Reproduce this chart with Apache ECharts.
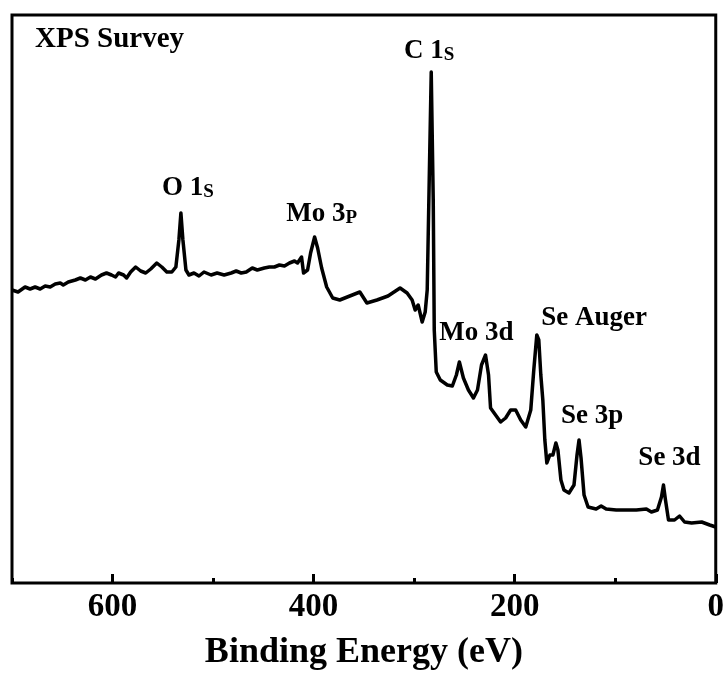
<!DOCTYPE html>
<html>
<head>
<meta charset="utf-8">
<script src="https://cdn.jsdelivr.net/npm/echarts@6/dist/echarts.min.js"></script>
<style>
html,body{margin:0;padding:0;background:#fff;}
#chart{width:727px;height:677px;}
</style>
</head>
<body>
<div id="chart"></div>
<script>
// Binding energy (eV)
const energy = [700,694,687,682,677,672,667,662,657,652,649,644,637,632,627,622,617,611,606,601,597,594,589,586,582,577,572,567,562,556,551,546,541,537,
  534,532,530,527,
  524,519,514,509,502,496,489,482,477,472,467,461,456,449,444,439,434,429,424,419,416,412,410,406,
  403,399,396,392,387,381,374,364,354,347,337,326,314,307,302,299,296,292,289,287,285,283,281,280,278,274,267,262,258,255,251,246,241,237,233,229,226,224,219,214,209,204,199,194,189,184,181,178,176,174,172,170,168,165,162,159,157,154,151,146,141,138,136,134,131,127,119,114,109,99,89,79,69,64,58,54,52,50,47,41,36,31,24,14,6,0];
// Intensity (a.u.)
const intensity = [293,291,296,294,296,294,297,296,299,300,298,301,303,305,303,306,304,308,310,308,306,310,308,305,311,316,312,310,314,320,316,311,311,316,
  343,370,343,313,
  308,310,307,311,308,310,308,310,312,310,311,315,313,315,316,316,318,317,320,322,320,326,310,313,
  330,346,335,315,296,285,283,287,291,280,283,287,295,290,283,273,278,261,271,293,403,511,383,253,211,203,198,197,208,221,205,193,185,193,218,228,208,175,168,161,165,173,173,163,156,173,213,248,243,208,183,143,120,128,128,140,133,103,93,90,98,128,143,125,88,76,74,77,74,73,73,73,74,71,73,86,98,83,63,63,67,61,60,61,58,56];
// Peak annotations
const peakLabels = ['{a|O 1}{b|S}','{a|Mo 3}{b|P}','{a|C 1}{b|S}','{a|Mo 3d}','{a|Se Auger}','{a|Se 3p}','{a|Se 3d}'];
const peakLabelEnergy = [525,392,285,238,121,123,46];
const peakLabelIntensity = [395,369,532,250,265,167,125];
const xTickLabels = ['0','200','400','600'];
const titleText = 'XPS Survey';
const xName = 'Binding Energy (eV)';

const serif = "'Liberation Serif','Times New Roman',Times,serif";
const chart = echarts.init(document.getElementById('chart'));
const line = energy.map((e,i)=>[e,intensity[i]]);
const labelData = peakLabels.map((t,i)=>({value:[peakLabelEnergy[i],peakLabelIntensity[i]],name:t}));

chart.setOption({
  animation:false,
  backgroundColor:'#fff',
  title:{text:titleText,left:35,top:25,padding:0,
    textStyle:{fontFamily:serif,fontWeight:'bold',fontSize:29,color:'#000'}},
  grid:{left:12,right:11,top:15,bottom:94,show:true,borderColor:'#000',borderWidth:3,backgroundColor:'transparent'},
  xAxis:[{
    type:'value',min:0,max:700,interval:200,inverse:true,position:'bottom',
    name:xName,nameLocation:'middle',nameGap:52,
    nameTextStyle:{fontFamily:serif,fontWeight:'bold',fontSize:36,color:'#000'},
    axisLine:{show:false},
    axisTick:{show:true,inside:true,length:9,lineStyle:{color:'#000',width:3}},
    axisLabel:{show:true,margin:8,showMaxLabel:false,fontFamily:serif,fontWeight:'bold',fontSize:33,color:'#000',
      formatter:function(v){const i=xTickLabels.indexOf(String(v));return i>=0?xTickLabels[i]:'';}},
    splitLine:{show:false}
  },{
    type:'value',min:0,max:700,interval:100,inverse:true,position:'bottom',
    axisLine:{show:false},
    axisTick:{show:true,inside:true,length:5,lineStyle:{color:'#000',width:3}},
    axisLabel:{show:false},splitLine:{show:false}
  }],
  yAxis:{type:'value',min:0,max:568,show:true,axisLine:{show:false},axisTick:{show:false},axisLabel:{show:false},splitLine:{show:false}},
  series:[{
    type:'line',xAxisIndex:0,data:line,showSymbol:false,symbol:'none',
    lineStyle:{color:'#000',width:3.5,join:'round'},z:3
  },{
    type:'scatter',xAxisIndex:0,data:labelData,symbolSize:0,z:4,
    itemStyle:{color:'#000',opacity:1},
    label:{show:true,position:'inside',color:'#000',textBorderWidth:0,opacity:1,
      formatter:function(p){return p.name;},
      rich:{
        a:{fontFamily:serif,fontWeight:'bold',fontSize:27,color:'#000',textBorderWidth:0,verticalAlign:'bottom',lineHeight:28},
        b:{fontFamily:serif,fontWeight:'bold',fontSize:19,color:'#000',textBorderWidth:0,verticalAlign:'bottom',lineHeight:24}
      }}
  }]
});
</script>
</body>
</html>
